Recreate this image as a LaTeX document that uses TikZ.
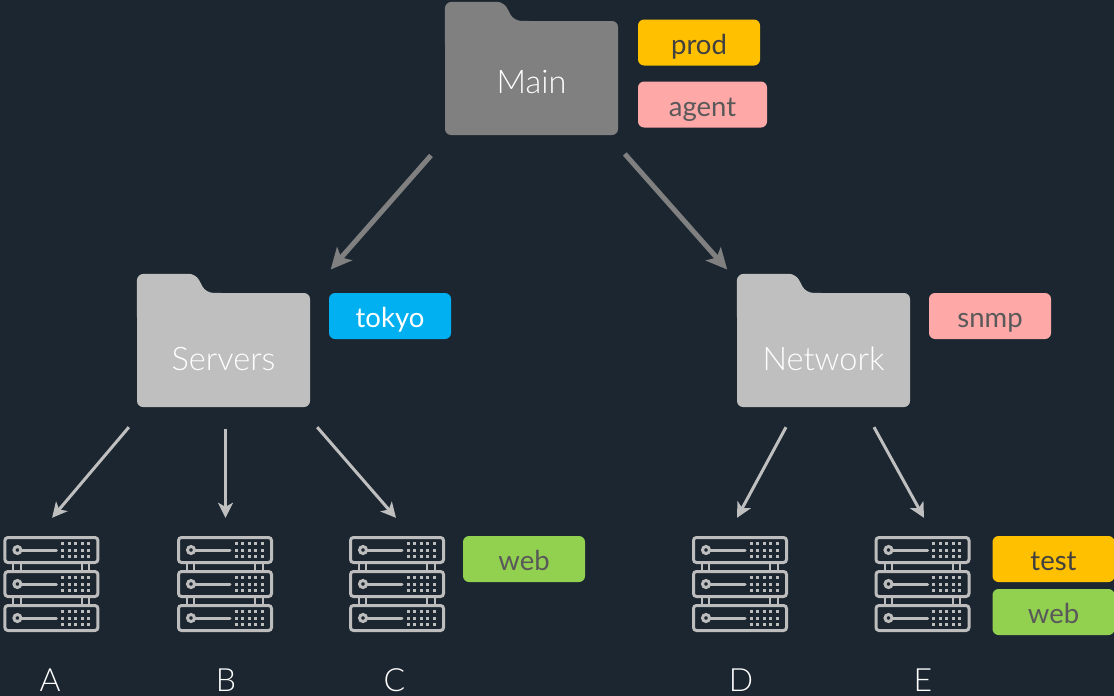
\documentclass[tikz,border=0pt]{standalone}
\usepackage{fontspec}
\setmainfont{Lato Light}
\newfontfamily\tagfont{Lato}
\usetikzlibrary{arrows.meta, positioning, calc}

\definecolor{mybg}{RGB}{27, 38, 48}
\definecolor{mygray}{RGB}{128, 128, 128}
\definecolor{mysilver}{RGB}{191, 191, 191}
\definecolor{myrack}{RGB}{189, 189, 189}
\definecolor{myyellow}{RGB}{255, 192, 0}
\definecolor{mypink}{RGB}{255, 168, 168}
\definecolor{mycyan}{RGB}{0, 176, 240}
\definecolor{mylime}{RGB}{146, 208, 80}

\tikzset{
    folderbody/.style={rounded corners=6pt, inner sep=0pt, minimum width=173pt, minimum height=114pt,
        text=white, text height=40pt, text depth=0pt, font=\fontsize{32.5}{38}\selectfont},
    tagbox/.style={rounded corners=6pt, inner sep=0pt, minimum width=122pt, minimum height=46pt,
        text=black!75, text height=23pt, text depth=0pt, font=\tagfont\fontsize{27.5}{32}\selectfont},
    rackbox/.style={inner sep=0pt, minimum width=96pt, minimum height=96pt},
    racklabel/.style={text=white, font=\fontsize{32}{38}\selectfont},
    bigarrow/.style={-{Stealth[length=21pt, width=20pt, inset=5pt]}, line width=5pt, mygray},
    smallarrow/.style={-{Stealth[length=15pt, width=15pt, inset=4pt]}, line width=3pt, mysilver},
    pics/foldertab/.style={code={
        \fill[pic actions, rounded corners=7pt] (0, 30) -- (0, -19) -- (59, -19) -- (69, 0) -- (90, 0) -- (90, 30) -- cycle;
    }},
    pics/rackunit/.style={code={
        \draw[myrack, line width=3pt, rounded corners=3pt] (-46.5, -12.5) rectangle (46.5, 12.5);
        \draw[myrack, line width=3pt] (-34, 0) circle (3.5);
        \draw[myrack, line width=3pt, line cap=round] (-30, 0) -- (5, 0);
        \foreach \i in {0, ..., 4} {
            \foreach \j in {-6.4, 0, 6.4} {
                \fill[myrack] (11.3 + \i*6.5 - 1.5, \j - 1.5) rectangle ++(3, 3);
            }
        }
    }},
    pics/rack/.style={code={
        \foreach \u in {-34, 0, 34} {
            \pic at (0, \u) {rackunit};
        }
        % small links between the units
        \foreach \u in {-17, 17} {
            \foreach \k in {-38, -30.7, 30.3, 37.6} {
                \draw[myrack, line width=2pt] (\k, \u - 4) -- (\k, \u + 4);
            }
        }
    }}
}

\begin{document}
\begin{tikzpicture}[x=1pt, y=-1pt]
        \fill[mybg] (0, 0) rectangle (1114, 696);
        \useasboundingbox (0, 0) rectangle (1114, 696);

        % 1. Folders
        \node[folderbody, fill=mygray, text height=30pt] (main) at (531.5, 78) {Main};
        \pic[fill=mygray] at (main.north west) {foldertab};
        \node[folderbody, fill=mysilver] (servers) at (223.5, 350) {Servers};
        \pic[fill=mysilver] at (servers.north west) {foldertab};
        \node[folderbody, fill=mysilver] (network) at (823.5, 350) {Network};
        \pic[fill=mysilver] at (network.north west) {foldertab};

        % 2. Tags
        \node[tagbox, fill=myyellow] (tag_prod) at (699, 42.5) {prod};
        \node[tagbox, fill=mypink, minimum width=129pt, text=black!65] (tag_agent) at (702.5, 104.5) {agent};
        \node[tagbox, fill=mycyan, text=white] (tag_tokyo) at (390, 316) {tokyo};
        \node[tagbox, fill=mypink, text=black!65] (tag_snmp) at (990, 316) {snmp};
        \node[tagbox, fill=mylime, text=black!65] (tag_webc) at (524, 559) {web};
        \node[tagbox, fill=myyellow] (tag_test) at (1053.5, 559) {test};
        \node[tagbox, fill=mylime, text=black!65] (tag_webe) at (1053.5, 612) {web};

        % 3. Racks
        \foreach \name/\x/\lx in {A/51.4/50, B/225/226, C/397/394.5, D/740/741, E/922.5/923} {
            \node[rackbox] (rack\name) at (\x, 584) {};
            \pic at (rack\name) {rack};
            \node[racklabel] (label\name) at (\lx, 680) {\name};
        }

        % 4. Arrows
        \draw[bigarrow, shorten <=27pt, shorten >=31pt] ([xshift=4pt]main.south west) -- (servers.north east);
        \draw[bigarrow, shorten <=25pt, shorten >=31pt] ([xshift=-10pt]main.south east) -- ([xshift=11pt]network.north west);

        \draw[smallarrow, shorten <=26.2pt, shorten >=23.6pt] ([xshift=9pt]servers.south west) -- ([xshift=-14.6pt]rackA.north);
        \draw[smallarrow, shorten <=22pt, shorten >=18pt] ([xshift=2pt]servers.south) -- ([xshift=0.5pt]rackB.north);
        \draw[smallarrow, shorten <=26.5pt, shorten >=23.8pt] ([xshift=-10.4pt]servers.south east) -- ([xshift=14.6pt]rackC.north);
        \draw[smallarrow, shorten <=22.7pt, shorten >=20.4pt] ([xshift=-26.7pt]network.south) -- ([xshift=-12.7pt]rackD.north);
        \draw[smallarrow, shorten <=22.8pt, shorten >=20.5pt] ([xshift=39.5pt]network.south) -- ([xshift=11.4pt]rackE.north);

    \end{tikzpicture}
\end{document}
